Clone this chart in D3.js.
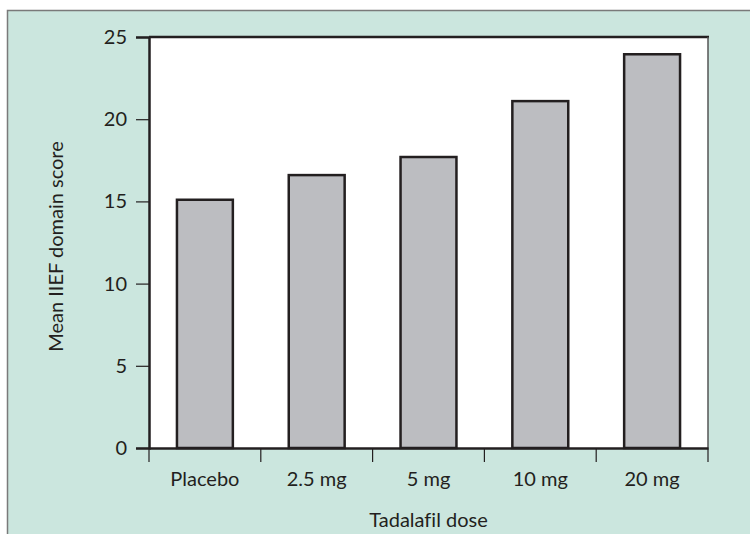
<!DOCTYPE html>
<html><head><meta charset="utf-8">
<script src="https://cdn.jsdelivr.net/npm/d3@7"></script>
<style>html,body{margin:0;padding:0;background:#fff}svg{display:block}text{font-variant-ligatures:none}</style>
</head><body>
<svg id="chart" width="750" height="534"></svg>
<script>
const categories = ["Placebo", "2.5 mg", "5 mg", "10 mg", "20 mg"];
const values = [15.1, 16.6, 17.7, 21.1, 23.95];
const yTicks = [0, 5, 10, 15, 20, 25];
const yTitle = "Mean IIEF domain score";
const xTitle = "Tadalafil dose";

const svg = d3.select("#chart");
const W = 750, H = 534;
const m = {left: 149, right: 708, top: 37, bottom: 448};
const font = "Lato, 'Open Sans', sans-serif";
const ink = "#231f20";

// outer frame
svg.append("rect").attr("x", 7.5).attr("y", 10.5).attr("width", W).attr("height", H)
  .attr("fill", "#cbe6de").attr("stroke", "#7a7a7a").attr("stroke-width", 1.5);

// plot area
svg.append("rect").attr("x", m.left).attr("y", m.top)
  .attr("width", m.right - m.left).attr("height", m.bottom - m.top)
  .attr("fill", "#fff");

const x = d3.scaleBand().domain(categories).range([m.left, m.right]).paddingInner(0.5).paddingOuter(0.25);
const xb = d3.scaleBand().domain(categories).range([m.left, m.right]);
const y = d3.scaleLinear().domain([0, 25]).range([m.bottom, m.top]);

// bars
svg.append("g").selectAll("rect").data(values).join("rect")
  .attr("x", (d, i) => x(categories[i]))
  .attr("width", x.bandwidth())
  .attr("y", d => y(d))
  .attr("height", d => y(0) - y(d))
  .attr("fill", "#bcbdc1").attr("stroke", ink).attr("stroke-width", 2.5);

// plot border top/right
svg.append("line").attr("x1", m.left).attr("x2", m.right + 1).attr("y1", m.top).attr("y2", m.top)
  .attr("stroke", ink).attr("stroke-width", 2.5);
svg.append("line").attr("x1", m.right).attr("x2", m.right).attr("y1", m.top).attr("y2", m.bottom)
  .attr("stroke", "#555").attr("stroke-width", 1.5);

// y axis
const yAxis = svg.append("g").attr("transform", `translate(${m.left},0)`)
  .call(d3.axisLeft(y).tickValues(yTicks).tickSize(13).tickPadding(9).tickFormat(d3.format("d")));
yAxis.select(".domain").attr("stroke", ink).attr("stroke-width", 2.5);
yAxis.selectAll(".tick line").attr("stroke", ink).attr("stroke-width", 1.2);
yAxis.selectAll("text").attr("font-family", font).attr("font-size", 20).attr("fill", ink);

// x axis
const xAxis = svg.append("g").attr("transform", `translate(0,${m.bottom})`)
  .call(d3.axisBottom(xb).tickSize(0).tickPadding(24));
xAxis.select(".domain").attr("stroke", ink).attr("stroke-width", 2.5);
xAxis.selectAll("text").attr("font-family", font).attr("font-size", 20).attr("fill", ink);
// boundary ticks
const bounds = categories.map(c => xb(c)).concat([m.right]);
svg.append("g").selectAll("line").data(bounds).join("line")
  .attr("x1", d => d).attr("x2", d => d)
  .attr("y1", m.bottom).attr("y2", m.bottom + 14)
  .attr("stroke", ink).attr("stroke-width", 1.2);

// titles
svg.append("text").attr("x", (m.left + m.right) / 2).attr("y", 527)
  .attr("text-anchor", "middle").attr("font-family", font).attr("font-size", 20).attr("fill", ink)
  .text(xTitle);
svg.append("text").attr("transform", `translate(63,${(m.top + m.bottom) / 2 + 4}) rotate(-90)`)
  .attr("text-anchor", "middle").attr("font-family", font).attr("font-size", 20).attr("fill", ink)
  .text(yTitle);
</script>
</body></html>
